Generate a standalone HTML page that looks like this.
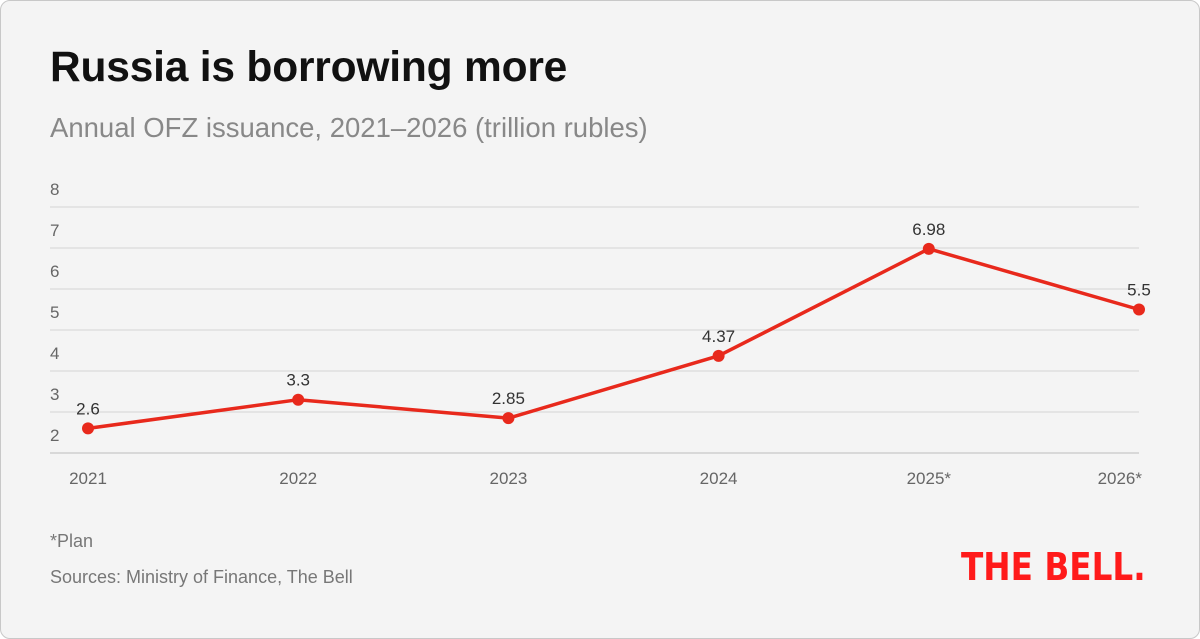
<!DOCTYPE html>
<html><head><meta charset="utf-8"><style>
html,body{margin:0;padding:0;background:#fff;}
#card{position:absolute;left:0;top:0;width:1198px;height:637px;background:#f4f4f4;border:1px solid #c8c8c8;border-radius:10px;font-family:"Liberation Sans",sans-serif;overflow:hidden;}
#title{position:absolute;left:49px;top:43px;font-size:42.5px;font-weight:bold;color:#111;margin:0;letter-spacing:-0.2px;}
#sub{position:absolute;left:49px;top:111px;font-size:27.5px;color:#888;}
.note{position:absolute;left:49px;font-size:18px;color:#777;}
#logo{position:absolute;left:960px;top:544px;font-size:38px;font-weight:900;color:#ff1a1a;letter-spacing:0px;font-family:"DejaVu Sans","Liberation Sans",sans-serif;transform:scaleX(0.86);transform-origin:left;white-space:nowrap;}
</style></head><body>
<div id="card">
<h1 id="title">Russia is borrowing more</h1>
<div id="sub">Annual OFZ issuance, 2021–2026 (trillion rubles)</div>
<svg id="chart" width="1200" height="639" style="position:absolute;left:-1px;top:-1px"></svg>
<div class="note" style="top:530px">*Plan</div>
<div class="note" style="top:566px">Sources: Ministry of Finance, The Bell</div>
<div id="logo">THE BELL.</div>
</div>
<script>
const categories=["2021","2022","2023","2024","2025*","2026*"];
const values=[2.6,3.3,2.85,4.37,6.98,5.5];
const labels=["2.6","3.3","2.85","4.37","6.98","5.5"];
const yTicks=[2,3,4,5,6,7,8];
const NS="http://www.w3.org/2000/svg";
const svg=document.getElementById('chart');
const y=v=>453-(v-2)*41;
const x=i=>88+i*(1139-88)/(categories.length-1);
function mk(t,a){const e=document.createElementNS(NS,t);for(const k in a)e.setAttribute(k,a[k]);svg.appendChild(e);return e;}
yTicks.forEach(t=>{
 const l=mk('line',{x1:50,x2:1139,y1:y(t),y2:y(t),stroke:t===2?'#bbb':'#d4d4d4','stroke-width':1});
 
 
 const tx=mk('text',{x:50,y:y(t)-12,'font-size':17,fill:'#666','font-family':'Liberation Sans, sans-serif'});
 tx.textContent=t;
 
 
});
categories.forEach((c,i)=>{
 const last=i===categories.length-1;
 const tx=mk('text',{x:last?x(i)+3:x(i),y:484,'font-size':17,fill:'#666','text-anchor':last?'end':'middle','font-family':'Liberation Sans, sans-serif'});
 tx.textContent=c;
 
 
});
const p=mk('polyline',{points:values.map((v,i)=>x(i)+','+y(v)).join(' '),fill:'none',stroke:'#e8291c','stroke-width':3.5,'stroke-linejoin':'round'});


values.forEach((v,i)=>{
 const c=mk('circle',{cx:x(i),cy:y(v),r:6,fill:'#e8291c'});
 
 
 const t=mk('text',{x:x(i),y:y(v)-14,'font-size':17,fill:'#333','text-anchor':'middle','font-family':'Liberation Sans, sans-serif'});
 t.textContent=labels[i];
 
 
});
</script>
</body></html>
